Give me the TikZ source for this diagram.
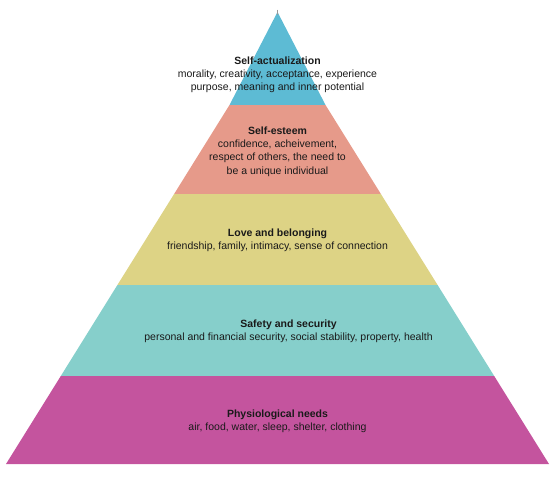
\documentclass[tikz,border=0pt]{standalone}
\usepackage{fontspec}
\setmainfont{Liberation Sans}
\definecolor{cTop}{HTML}{5DBBD4}
\definecolor{cEsteem}{HTML}{E69A8A}
\definecolor{cLove}{HTML}{DDD385}
\definecolor{cSafe}{HTML}{86CFCB}
\definecolor{cPhys}{HTML}{C4549E}
\definecolor{cText}{HTML}{1A1A1A}
\begin{document}
\begin{tikzpicture}[x=1pt,y=-1pt,
  layertext/.style={align=center,text=cText,inner sep=0pt,font=\fontsize{10.5}{13.2}\selectfont},
  layer/.style={draw=none}]
\useasboundingbox (0,0) rectangle (556,477);
% layers
\fill[cTop]    (277.5,12) -- (325.5,105) -- (229.5,105) -- cycle;
\fill[cEsteem] (229.5,105) -- (325.5,105) -- (380.9,194) -- (174.1,194) -- cycle;
\fill[cLove]   (174.1,194) -- (380.9,194) -- (437.6,285) -- (117.4,285) -- cycle;
\fill[cSafe]   (117.4,285) -- (437.6,285) -- (494.2,376) -- (60.8,376) -- cycle;
\fill[cPhys]   (60.8,376) -- (494.2,376) -- (549,464) -- (6,464) -- cycle;
% tick at apex
\draw[gray!80,line width=0.8pt] (277.7,9.5) -- (277.7,15);
% texts
\node[layertext] (sa) at (277.5,74.5) {\textbf{Self-actualization}\\morality, creativity, acceptance, experience\\purpose, meaning and inner potential};
\node[layertext] (se) at (277.5,151.5) {\textbf{Self-esteem}\\confidence, acheivement,\\respect of others, the need to\\be a unique individual};
\node[layertext] (lb) at (277.5,240.5) {\textbf{Love and belonging}\\friendship, family, intimacy, sense of connection};
\node[layertext] (ss) at (288.5,331) {\textbf{Safety and security}\\personal and financial security, social stability, property, health};
\node[layertext] (pn) at (277.5,421.5) {\textbf{Physiological needs}\\air, food, water, sleep, shelter, clothing};
\end{tikzpicture}
\end{document}
